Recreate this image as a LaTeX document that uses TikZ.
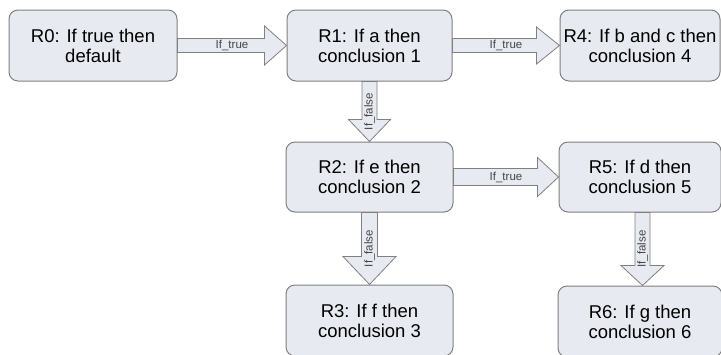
\documentclass[tikz,border=0pt]{standalone}
\usepackage{fontspec}
\setmainfont{Liberation Sans}
\usetikzlibrary{calc}
\definecolor{boxfill}{HTML}{E8EAF1}
\definecolor{boxline}{HTML}{808080}
\definecolor{labtext}{HTML}{454545}
\tikzset{
  rulebox/.style={draw=boxline, line width=1pt, fill=boxfill, rounded corners=9pt,
    align=center, font=\fontsize{18.5}{20}\selectfont, inner sep=0pt},
  blockarrow/.style={draw=boxline, line width=0.8pt, fill=boxfill, line join=miter},
  arrowlabel/.style={font=\fontsize{11.5}{12}\selectfont, text=labtext, inner sep=0pt},
}
\newcommand{\hblock}[6]{%
  \draw[blockarrow] ($(#1)+(0,#3)$) -- ($(#2)+(-#5,#3)$) -- ($(#2)+(-#5,#4)$) -- (#2)
    -- ($(#2)+(-#5,-#4)$) -- ($(#2)+(-#5,-#3)$) -- ($(#1)+(0,-#3)$) -- cycle;
  \node[arrowlabel] at ($(#1)!0.5!(#2)$) {#6};
}
\newcommand{\vblock}[6]{%
  \draw[blockarrow] ($(#1)+(#3,0)$) -- ($(#2)+(#3,-#5)$) -- ($(#2)+(#4,-#5)$) -- (#2)
    -- ($(#2)+(-#4,-#5)$) -- ($(#2)+(-#3,-#5)$) -- ($(#1)+(-#3,0)$) -- cycle;
  \node[arrowlabel, rotate=90] at ($(#1)!0.5!(#2)$) {#6};
}
\begin{document}
\begin{tikzpicture}[x=1pt, y=-1pt]
\useasboundingbox (0,0) rectangle (721,354);
\node[rulebox, minimum width=168pt, minimum height=71pt] (R0) at (93,45.5) {R0: If true then\\default};
\node[rulebox, minimum width=165pt, minimum height=71pt] (R1) at (369.5,45.5) {R1: If a then\\conclusion 1};
\node[rulebox, minimum width=160pt, minimum height=71pt] (R4) at (640,45.5) {R4: If b and c then\\conclusion 4};
\node[rulebox, minimum width=167pt, minimum height=70pt] (R2) at (369.5,177) {R2: If e then\\conclusion 2};
\node[rulebox, minimum width=162pt, minimum height=70pt] (R5) at (640,177) {R5: If d then\\conclusion 5};
\node[rulebox, minimum width=167pt, minimum height=71pt] (R3) at (369.5,320.5) {R3: If f then\\conclusion 3};
\node[rulebox, minimum width=164pt, minimum height=71pt] (R6) at (640,321.5) {R6: If g then\\conclusion 6};
\coordinate (s5) at ([xshift=2.5pt]R5.south);
\coordinate (s6) at ([xshift=2.5pt]R6.north);
\hblock{R0.east}{R1.west}{7}{19.5}{22}{If\_true}
\hblock{R1.east}{R4.west}{7}{18.5}{23}{If\_true}
\hblock{R2.east}{R5.west}{8.5}{19.5}{21}{If\_true}
\vblock{R1.south}{R2.north}{7.5}{21}{22}{If\_false}
\vblock{R2.south}{R3.north}{8}{26.5}{28}{If\_false}
\vblock{s5}{s6}{7.5}{21.5}{20}{If\_false}
\end{tikzpicture}
\end{document}
